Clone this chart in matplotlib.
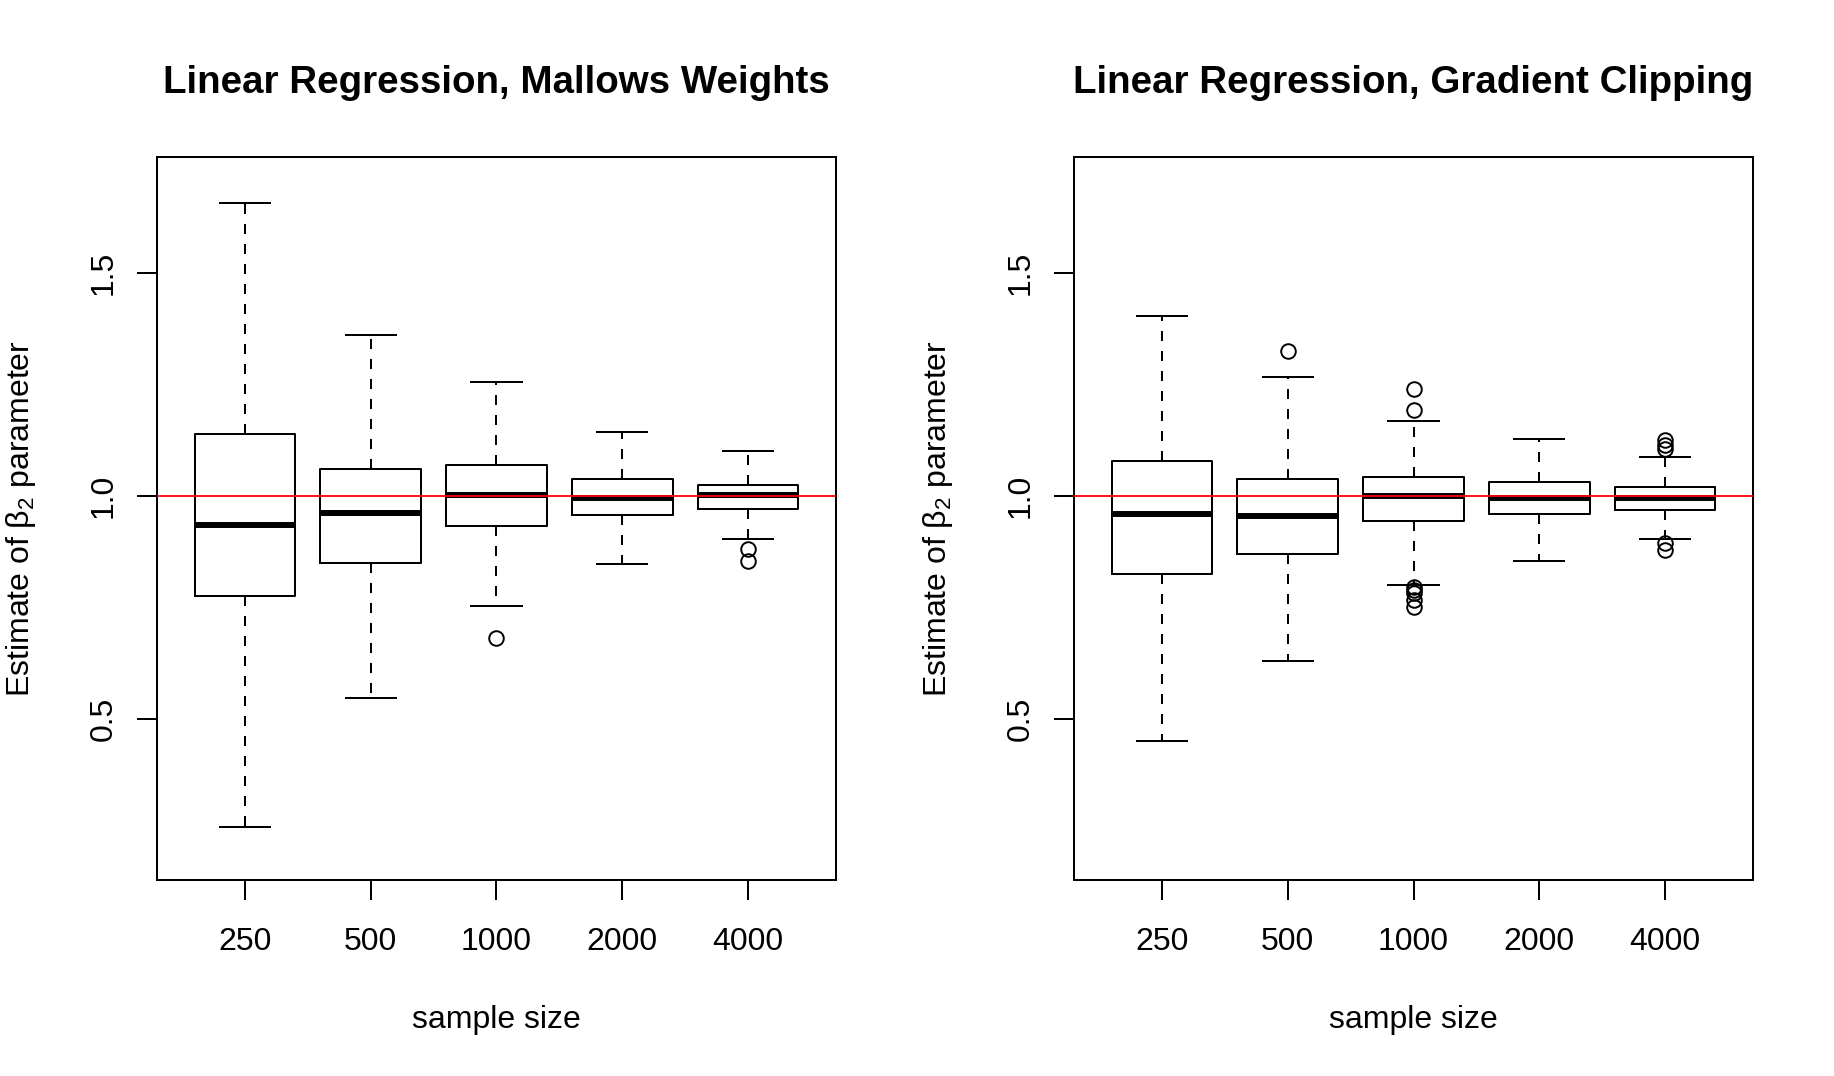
import matplotlib
matplotlib.use("Agg")
import matplotlib.pyplot as plt

plt.rcParams['font.family'] = ['Liberation Sans', 'DejaVu Sans']
plt.rcParams['mathtext.fontset'] = 'custom'
plt.rcParams['mathtext.rm'] = 'Liberation Sans'
plt.rcParams['mathtext.it'] = 'Liberation Sans'
plt.rcParams['mathtext.bf'] = 'Liberation Sans:bold'

# ---- data ----
sample_sizes = ["250", "500", "1000", "2000", "4000"]
titles = ["Linear Regression, Mallows Weights", "Linear Regression, Gradient Clipping"]

# Mallows weights
mal_whislo = [0.258, 0.547, 0.755, 0.847, 0.904]
mal_q1 = [0.776, 0.850, 0.933, 0.957, 0.971]
mal_med = [0.936, 0.963, 1.002, 0.997, 1.003]
mal_q3 = [1.139, 1.062, 1.070, 1.038, 1.024]
mal_whishi = [1.656, 1.361, 1.255, 1.144, 1.101]
mal_fliers = [[], [], [0.683], [], [0.881, 0.855]]

# Gradient clipping
gc_whislo = [0.451, 0.630, 0.800, 0.855, 0.903]
gc_q1 = [0.825, 0.871, 0.945, 0.959, 0.970]
gc_med = [0.959, 0.955, 1.000, 0.996, 0.997]
gc_q3 = [1.078, 1.039, 1.043, 1.032, 1.020]
gc_whishi = [1.403, 1.266, 1.168, 1.128, 1.088]
gc_fliers = [[], [1.326], [1.240, 1.194, 0.797, 0.790, 0.784, 0.768, 0.752], [],
             [1.125, 1.115, 1.106, 0.896, 0.880]]

yticks = [0.5, 1.0, 1.5]
ytick_labels = ["0.5", "1.0", "1.5"]
ref_value = 1.0

panels = [
    (mal_whislo, mal_q1, mal_med, mal_q3, mal_whishi, mal_fliers),
    (gc_whislo, gc_q1, gc_med, gc_q3, gc_whishi, gc_fliers),
]

W, H = 1834, 1076
fig = plt.figure(figsize=(W / 100, H / 100), dpi=100)

ax_left_px = [157, 1074]
ax_w_px = 679
ax_top_px, ax_bot_px = 157, 880

lw = 1.44
fs = 23
for i, (wl, q1, med, q3, wh, fl) in enumerate(panels):
    x0 = ax_left_px[i] / W
    ax = fig.add_axes([x0, 1 - ax_bot_px / H, ax_w_px / W, (ax_bot_px - ax_top_px) / H])
    stats = []
    for j in range(len(sample_sizes)):
        stats.append(dict(whislo=wl[j], q1=q1[j], med=med[j], q3=q3[j],
                          whishi=wh[j], fliers=fl[j], label=sample_sizes[j]))
    ax.bxp(stats, positions=range(1, len(stats) + 1), widths=0.8,
           showfliers=True, patch_artist=False,
           boxprops=dict(color='black', linewidth=lw),
           medianprops=dict(color='black', linewidth=4.3, solid_capstyle='butt'),
           whiskerprops=dict(color='black', linewidth=lw, linestyle=(0, (5, 5))),
           capprops=dict(color='black', linewidth=lw),
           capwidths=0.4,
           flierprops=dict(marker='o', markerfacecolor='none', markeredgecolor='black',
                           markersize=10.5, markeredgewidth=1.4, linestyle='none'))
    ax.axhline(ref_value, color='red', linewidth=1.3, zorder=5)
    ax.set_xlim(0.3, 5.7)
    ax.set_ylim(0.14, 1.76)
    ax.set_yticks(yticks)
    ax.set_yticklabels(ytick_labels)
    for s in ax.spines.values():
        s.set_linewidth(lw)
    ax.tick_params(axis='both', direction='out', length=14.4, width=lw, labelsize=fs)
    ax.tick_params(axis='x', pad=19.5)
    ax.tick_params(axis='y', pad=13, labelrotation=90)
    for t in ax.get_yticklabels():
        t.set_va('center')
    ax.set_title(titles[i], fontsize=27.7, fontweight='bold', pad=46)
    cx = (ax_left_px[i] + ax_w_px / 2) / W
    fig.text(cx, 1 - 1028 / H, "sample size", ha='center', va='baseline', fontsize=fs)
    fig.text((ax_left_px[i] - 136) / W, 1 - 518.5 / H, r'Estimate of $\beta_2$ parameter',
             ha='center', va='center', rotation=90, fontsize=fs)

fig.savefig("out.png", dpi=100)
